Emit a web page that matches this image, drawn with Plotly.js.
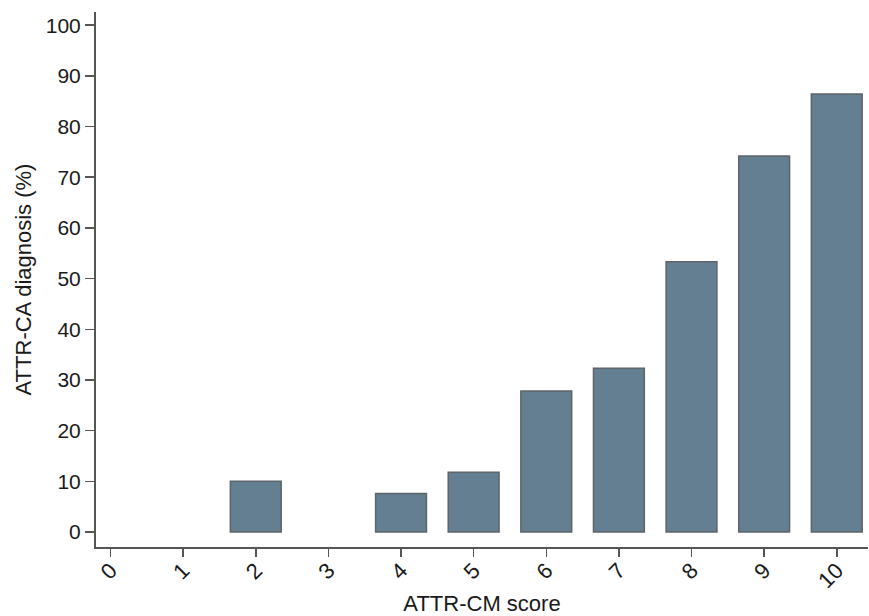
<!DOCTYPE html>
<html>
<head>
<meta charset="utf-8">
<script src="https://cdn.plot.ly/plotly-3.0.1.min.js"></script>
<style>html,body{margin:0;padding:0;background:#fff;}#chart{width:869px;height:616px;}</style>
</head>
<body>
<div id="chart"></div>
<script>
const scores = [0, 1, 2, 3, 4, 5, 6, 7, 8, 9, 10];
const tickLabels = ["0", "1", "2", "3", "4", "5", "6", "7", "8", "9", "10"];
const diagnosisPct = [null, null, 10.0, null, 7.6, 11.8, 27.8, 32.3, 53.3, 74.2, 86.4];
const yTicks = [0, 10, 20, 30, 40, 50, 60, 70, 80, 90, 100];

const fontFam = "Liberation Sans, Arial, sans-serif";
const trace = {
  type: "bar",
  x: scores,
  y: diagnosisPct,
  width: 0.7,
  marker: { color: "#647f92", line: { color: "#5e6468", width: 1.5 } },
  hoverinfo: "skip"
};
const layout = {
  width: 869, height: 616,
  margin: { l: 96, r: 1, t: 12, b: 69 },
  paper_bgcolor: "#fff", plot_bgcolor: "#fff",
  showlegend: false,
  font: { family: fontFam, color: "#1a1a1a" },
  xaxis: {
    range: [-0.2, 10.43],
    tickmode: "array", tickvals: scores, ticktext: tickLabels,
    tickangle: -45,
    ticks: "outside", ticklen: 8, tickwidth: 1.5, tickcolor: "#555",
    ticklabelstandoff: -8,
    showline: true, linecolor: "#555", linewidth: 2,
    showgrid: false, zeroline: false,
    tickfont: { size: 22, family: fontFam, color: "#1a1a1a" },
    automargin: false,
    title: { text: "ATTR-CM score", font: { size: 22, family: fontFam, color: "#1a1a1a" }, standoff: 12 }
  },
  yaxis: {
    range: [-2.96, 102.6],
    tickmode: "array", tickvals: yTicks,
    ticks: "outside", ticklen: 9, tickwidth: 1.5, tickcolor: "#555",
    showline: true, linecolor: "#555", linewidth: 2,
    showgrid: false, zeroline: false,
    tickfont: { size: 21, family: fontFam, color: "#1a1a1a" },
    automargin: false,
    title: { text: "ATTR-CA diagnosis (%)", font: { size: 22, family: fontFam, color: "#1a1a1a" }, standoff: 8 }
  }
};
Plotly.newPlot("chart", [trace], layout, { displayModeBar: false, staticPlot: true });
</script>
</body>
</html>
